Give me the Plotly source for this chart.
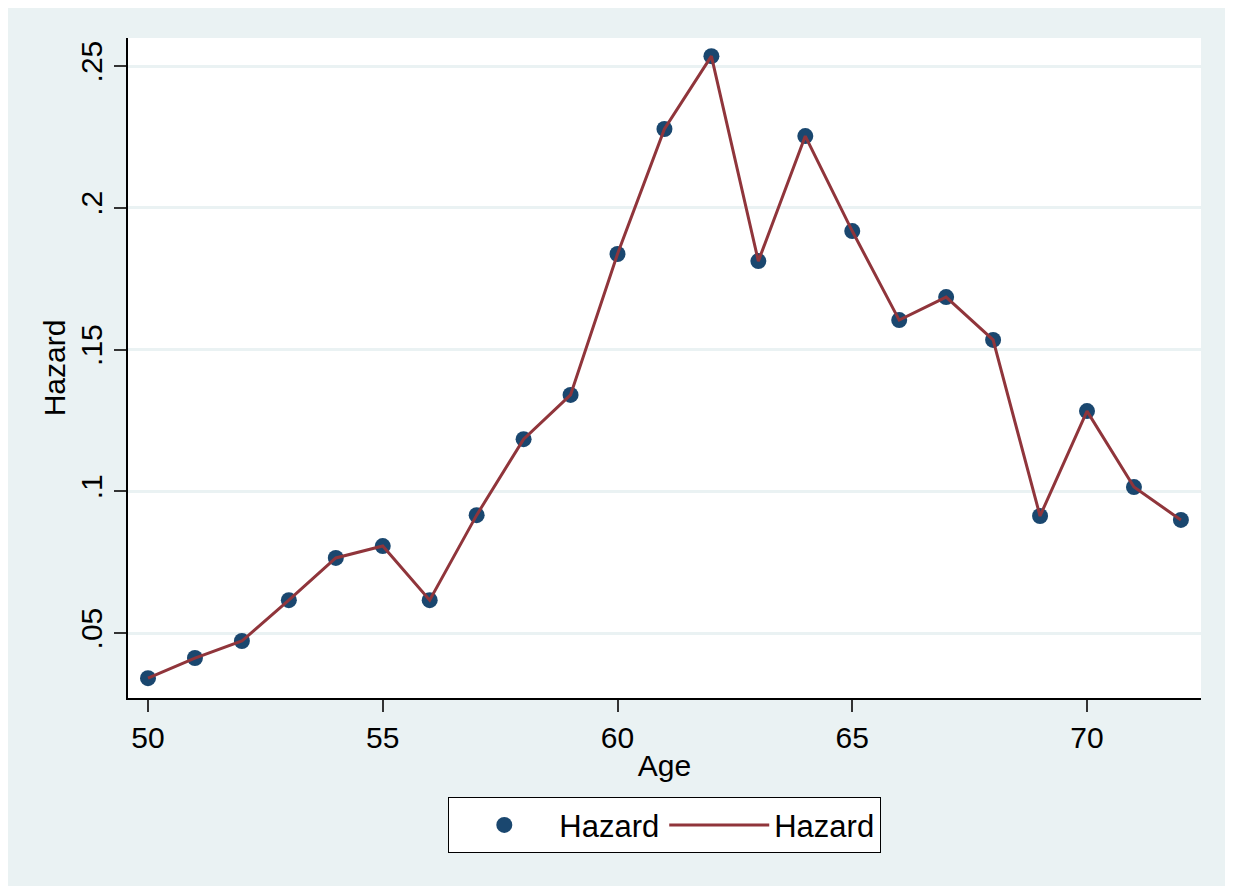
import plotly.graph_objects as go

age = list(range(50, 73))
hazard = [0.0341, 0.0412, 0.0472, 0.0616, 0.0765, 0.0807, 0.0616, 0.0916, 0.1184,
          0.1340, 0.1837, 0.2278, 0.2535, 0.1812, 0.2253, 0.1918, 0.1604, 0.1685,
          0.1534, 0.0913, 0.1283, 0.1015, 0.0899]
ytick_vals = [0.05, 0.10, 0.15, 0.20, 0.25]
ytick_text = [".05", ".1", ".15", ".2", ".25"]
xtick_vals = [50, 55, 60, 65, 70]

FONT = "Arial, Liberation Sans, sans-serif"
BG = "#EAF2F3"

fig = go.Figure()
fig.add_trace(go.Scatter(x=age, y=hazard, mode="markers", name="Hazard",
                         marker=dict(color="#1A476F", size=16)))
fig.add_trace(go.Scatter(x=age, y=hazard, mode="lines", name="Hazard",
                         line=dict(color="#90353B", width=3)))

# page has an 8px body margin; figure sized to fit inside the window
W, H = 1217, 878
L, R, T, B = 120, 24, 30, 188
pw, ph = W - L - R, H - T - B

def px_y(p):
    return (H - B - p) / ph

fig.update_layout(
    width=W, height=H,
    margin=dict(l=L, r=R, t=T, b=B, pad=0),
    paper_bgcolor=BG, plot_bgcolor="white",
    font=dict(family=FONT, size=30, color="black"),
    showlegend=True,
    legend=dict(orientation="h", x=0.5, xanchor="center", y=px_y(789), yanchor="top",
                bgcolor="white", bordercolor="black", borderwidth=1.3,
                font=dict(size=31), itemwidth=100, itemsizing="trace"),
    xaxis=dict(range=[49.574, 72.428], tickvals=xtick_vals, ticks="outside", ticklen=12,
               tickwidth=1.5, tickcolor="#333333", showline=True, linecolor="black",
               linewidth=1.5, showgrid=False, zeroline=False,
               title=dict(text="Age", standoff=2, font=dict(size=30)),
               tickfont=dict(size=30)),
    yaxis=dict(range=[0.0271, 0.2599], tickvals=ytick_vals, ticktext=ytick_text,
               tickangle=-90, ticks="outside", ticklen=12, tickwidth=1.5,
               tickcolor="#333333", showline=True, linecolor="black", linewidth=1.5,
               showgrid=True, gridcolor=BG, gridwidth=2.5, zeroline=False,
               title=dict(text="Hazard", standoff=1, font=dict(size=30)),
               tickfont=dict(size=30)),
)

fig.write_html("out.html")
